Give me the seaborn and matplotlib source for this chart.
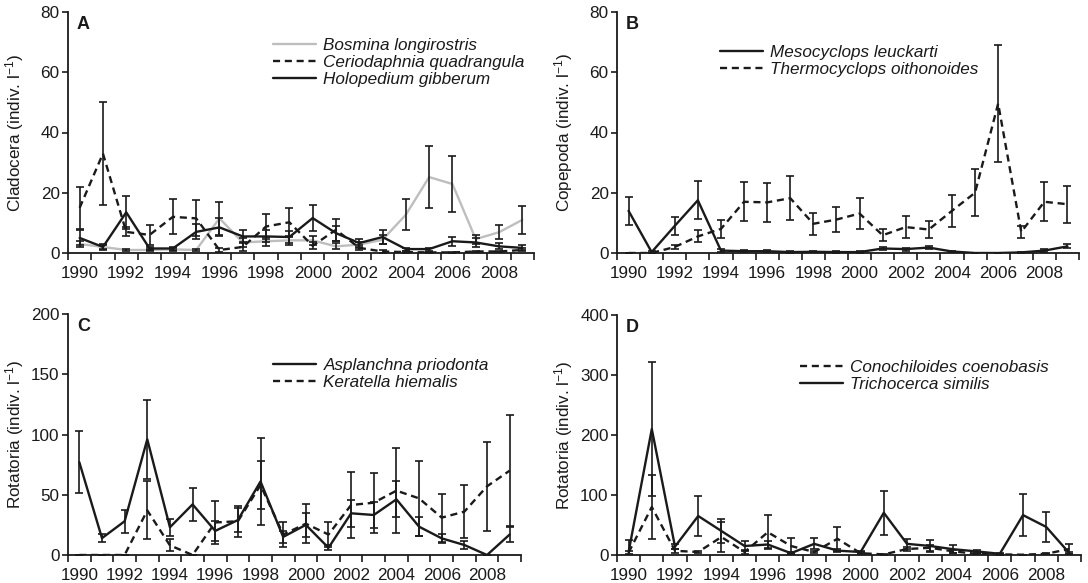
import numpy as np
import pandas as pd
import seaborn as sns
import matplotlib.pyplot as plt

years = list(range(1990, 2010))
year_labels = [str(y) for y in years[::2]]

# A - Cladocera
bosmina = [3, 2, 1, 1, 1.2, 1, 11.5, 3.5, 3.9, 4.2, 4.2, 2.2, 2.8, 4.4, 12.7, 25.2, 22.9, 4.6, 6.9, 11]
bosmina_err = [1, 0.8, 0.3, 0.3, 0.4, 0.4, 5.5, 1.5, 1.5, 1.5, 1.5, 1, 1, 1.5, 5.2, 10.3, 9.4, 1.5, 2.3, 4.6]
cerio = [15, 33, 7, 6, 12, 11.5, 1, 2, 8.8, 10.2, 2.4, 7.7, 1.7, 0.5, 0.3, 0.2, 0.2, 0.5, 0.5, 1]
cerio_err = [7, 17, 1.5, 3.4, 5.8, 6, 0.8, 1.2, 4.2, 4.8, 1.2, 3.7, 0.8, 0.4, 0.2, 0.2, 0.2, 0.3, 0.3, 0.5]
holo = [5, 2, 13.5, 1.5, 1.5, 7, 8.5, 5.5, 5.5, 5.3, 11.6, 6.6, 3.3, 5.3, 1.3, 1.3, 3.9, 3.5, 2.2, 1.7]
holo_err = [2.5, 1, 5.5, 0.5, 0.5, 2.5, 3, 2, 2, 2, 4.2, 2.5, 1.2, 2.2, 0.5, 0.5, 1.5, 1.5, 1, 0.8]

# B - Copepoda
meso = [14, 0.3, 9, 17.5, 0.8, 0.6, 0.6, 0.3, 0.4, 0.3, 0.3, 1.5, 1.3, 1.8, 0.5, 0, 0, 0.2, 0.8, 2.2]
meso_err = [4.7, 0.2, 3, 6.3, 0.4, 0.3, 0.3, 0.2, 0.2, 0.2, 0.2, 0.6, 0.5, 0.6, 0.3, 0, 0, 0.1, 0.4, 0.7]
thermo = [0, 0, 2, 5.5, 8, 17, 16.8, 18.2, 9.7, 11.1, 13.1, 5.9, 8.6, 7.8, 14, 20, 49.6, 7, 17, 16.2]
thermo_err = [0, 0, 0.8, 2, 3, 6.5, 6.5, 7.2, 3.7, 4.2, 5, 2, 3.6, 2.9, 5.4, 7.8, 19.5, 2, 6.5, 6.2]

# C - Rotatoria
asplanchna = [77, 14, 28, 96, 23, 42, 20, 29, 61, 15, 25, 6, 34.6, 33.2, 46.2, 23.5, 13.8, 8.3, 0, 17]
asplanchna_err = [25.5, 3.5, 9.5, 33, 7, 14, 8, 10, 36, 5, 10, 2, 11, 11, 15, 8, 4, 3, 0, 6]
keratella = [0, 0, 0, 37, 8, 0, 27, 28, 58, 17, 26, 17, 41.5, 43.4, 53.4, 47, 31, 36, 57, 70]
keratella_err = [0, 0, 0, 24, 5, 0, 18, 13, 20, 10, 16, 10, 27, 25, 35, 31, 20, 22, 37, 46]

# D - Rotatoria
conochiloides = [4, 80, 7, 5, 30, 5, 38, 15, 5, 27, 3, 1, 10, 12, 6, 2, 1, 0.5, 2, 10]
conochiloides_err = [2, 54, 3, 2, 25, 3, 28, 14, 2, 20, 1.5, 0.5, 4, 5, 3, 1, 0.5, 0.3, 1, 8]
trichocerca = [5, 210, 14, 65, 40, 15, 17.5, 3, 18.6, 7.3, 5, 70.4, 18.6, 15, 9.6, 6, 2, 66.5, 46.8, 3]
trichocerca_err = [20, 112, 4, 34, 20, 8, 6, 2, 9, 3, 2, 37, 8, 10, 7, 3, 1, 35, 25, 2]

BLACK = "#1a1a1a"
GREY = "#bebebe"
SOLID = "-"
DASHED = (0, (3, 2))

panels = [
    dict(letter="A", ylabel="Cladocera (indiv. l$^{-1}$)", ymax=80, step=20,
         rect=[68, 12, 534, 253], legend=(273, 38),
         series=[("Bosmina longirostris", bosmina, bosmina_err, GREY, SOLID),
                 ("Ceriodaphnia quadrangula", cerio, cerio_err, BLACK, DASHED),
                 ("Holopedium gibberum", holo, holo_err, BLACK, SOLID)]),
    dict(letter="B", ylabel="Copepoda (indiv. l$^{-1}$)", ymax=80, step=20,
         rect=[617, 12, 1079, 253], legend=(720, 45),
         series=[("Mesocyclops leuckarti", meso, meso_err, BLACK, SOLID),
                 ("Thermocyclops oithonoides", thermo, thermo_err, BLACK, DASHED)]),
    dict(letter="C", ylabel="Rotatoria (indiv. l$^{-1}$)", ymax=200, step=50,
         rect=[68, 314, 521, 555], legend=(273, 358),
         series=[("Asplanchna priodonta", asplanchna, asplanchna_err, BLACK, SOLID),
                 ("Keratella hiemalis", keratella, keratella_err, BLACK, DASHED)]),
    dict(letter="D", ylabel="Rotatoria (indiv. l$^{-1}$)", ymax=400, step=100,
         rect=[617, 315, 1081, 555], legend=(800, 360),
         series=[("Conochiloides coenobasis", conochiloides, conochiloides_err, BLACK, DASHED),
                 ("Trichocerca similis", trichocerca, trichocerca_err, BLACK, SOLID)]),
]

sns.set_style("ticks")
plt.rcParams["font.family"] = ["Liberation Sans", "DejaVu Sans"]
plt.rcParams["mathtext.default"] = "regular"
plt.rcParams["axes.linewidth"] = 1.3

W, H = 1088, 583
fig = plt.figure(figsize=(W / 100, H / 100), dpi=100)
pos = np.arange(len(years))
FS = 12.3

for p in panels:
    x0, y0, x1, y1 = p["rect"]
    ax = fig.add_axes([x0 / W, 1 - y1 / H, (x1 - x0) / W, (y1 - y0) / H])
    for name, vals, err, color, ls in p["series"]:
        df = pd.DataFrame({"pos": pos, "value": vals})
        sns.lineplot(data=df, x="pos", y="value", ax=ax, color=color,
                     linewidth=1.7, linestyle=ls, label=name, zorder=3)
        ax.errorbar(pos, vals, yerr=err, fmt="none", ecolor=BLACK,
                    elinewidth=1.2, capsize=2.6, capthick=1.2, zorder=4)
    ax.set_xlim(-0.5, len(years) - 0.5)
    ax.set_ylim(0, p["ymax"])
    ax.set_yticks(np.arange(0, p["ymax"] + 1, p["step"]))
    ax.set_xticks(np.arange(-0.5, len(years), 1))
    ax.set_xticklabels([])
    ax.set_xticks(pos[::2], minor=True)
    ax.set_xticklabels(year_labels, minor=True)
    ax.tick_params(axis="x", which="major", length=5, width=1.2, color=BLACK)
    ax.tick_params(axis="x", which="minor", length=0, pad=9, labelsize=FS, labelcolor=BLACK)
    ax.tick_params(axis="y", length=4, width=1.2, pad=2, labelsize=FS, color=BLACK, labelcolor=BLACK)
    ax.set_xlabel("")
    ax.set_ylabel(p["ylabel"], fontsize=FS, color=BLACK)
    ax.yaxis.set_label_coords(-42 / (x1 - x0), 0.5)
    sns.despine(ax=ax)
    for s in ["left", "bottom"]:
        ax.spines[s].set_color(BLACK)
    ax.text(9 / (x1 - x0), 0.985, p["letter"], transform=ax.transAxes,
            fontsize=13, fontweight="bold", va="top", ha="left", color=BLACK)
    lx, ly = p["legend"]
    leg = ax.legend(loc="upper left", bbox_to_anchor=(lx / W, 1 - ly / H),
                    bbox_transform=fig.transFigure, frameon=False,
                    borderaxespad=0, borderpad=0, handlelength=2.5,
                    handletextpad=0.45, labelspacing=0.12,
                    prop={"size": FS, "style": "italic"})
    for t in leg.get_texts():
        t.set_color(BLACK)

fig.savefig("out.png", dpi=100)
